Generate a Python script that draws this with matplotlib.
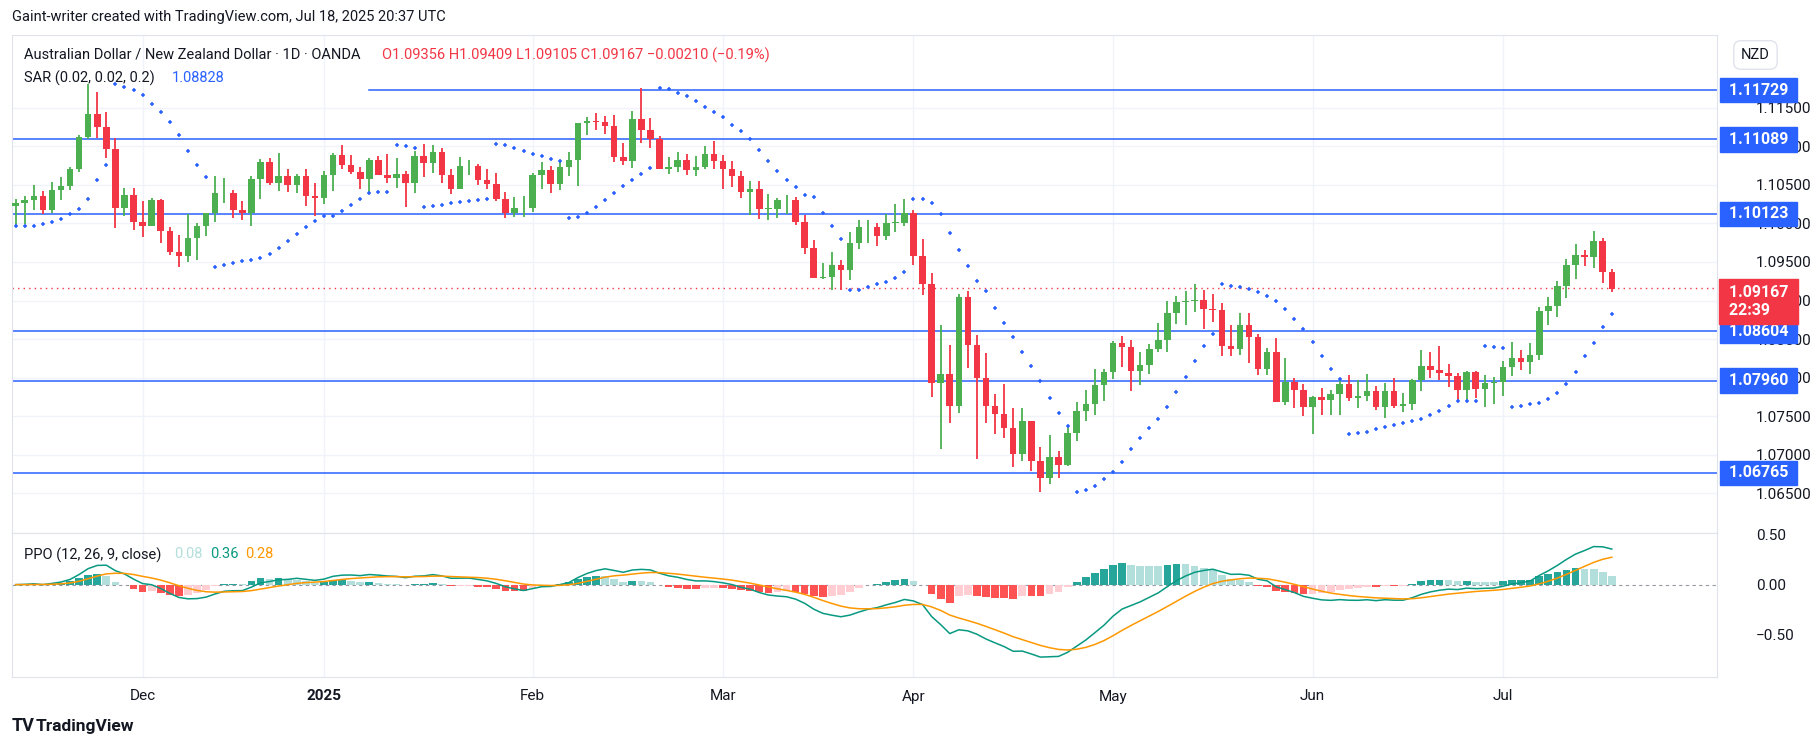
import numpy as np
import matplotlib
matplotlib.use("Agg")
import matplotlib.pyplot as plt
import matplotlib.transforms as mtrans
from matplotlib.patches import Rectangle

plt.rcParams["font.family"] = "Roboto"

# daily AUD/NZD bars, values in 1e-4 above 1.0000
highs = [1031,1036,1050,1042,1054,1060,1073,1114,1181,1170,1144,1111,1046,1046,1029,1033,1032,995,985,1012,1001,1014,1061,1059,1043,1029,1061,1083,1085,1091,1071,1064,1071,1052,1068,1091,1102,1089,1073,1085,1087,1090,1085,1068,1094,1103,1102,1098,1071,1086,1082,1077,1071,1065,1041,1034,1036,1065,1080,1074,1080,1093,1130,1138,1143,1139,1141,1104,1146,1176,1137,1113,1086,1093,1090,1087,1100,1107,1089,1081,1068,1055,1055,1038,1033,1037,1034,1011,979,949,963,953,989,1004,1004,1001,1012,1025,1032,1017,980,936,868,842,909,912,855,832,779,792,761,761,744,710,726,705,737,769,784,811,811,848,854,849,833,844,871,899,906,912,921,914,909,897,868,884,884,857,839,852,826,800,792,776,787,784,797,804,797,805,789,793,800,780,798,836,833,841,818,806,809,809,804,801,822,846,836,845,892,905,925,954,973,966,990,981,941]
lows = [997,999,1017,1012,1013,1030,1043,1066,1109,1111,1085,994,1009,991,982,997,975,959,944,950,953,983,1002,1027,1007,1004,996,1032,1050,1042,1041,1039,1023,1009,1025,1042,1071,1064,1045,1041,1063,1052,1046,1021,1039,1060,1065,1052,1038,1045,1063,1050,1045,1029,1007,1008,1008,1015,1045,1039,1043,1061,1049,1115,1121,1116,1080,1076,1072,1104,1098,1071,1064,1067,1063,1061,1071,1071,1045,1047,1033,1011,1006,1004,1007,1012,998,960,929,928,914,914,927,967,975,971,979,989,997,946,907,775,708,741,754,813,695,741,727,722,684,692,679,652,662,670,686,718,744,752,770,798,814,782,791,805,833,833,870,868,885,863,872,828,828,829,819,804,804,769,765,761,750,727,752,752,752,770,761,770,758,747,761,756,758,783,800,797,788,770,770,774,762,766,776,802,810,805,823,868,879,903,928,945,942,923,911]
closes = [1026,1030,1035,1017,1043,1049,1071,1112,1142,1125,1096,1020,1037,1002,997,1030,990,963,958,981,997,1013,1039,1040,1017,1013,1058,1080,1052,1061,1050,1061,1036,1033,1063,1089,1076,1067,1058,1082,1063,1059,1064,1052,1087,1078,1093,1063,1045,1074,1074,1056,1051,1032,1014,1020,1020,1063,1069,1051,1073,1082,1130,1133,1131,1126,1086,1081,1135,1121,1109,1071,1073,1082,1069,1073,1090,1081,1071,1061,1041,1045,1019,1019,1030,1030,1002,968,929,931,946,940,975,995,995,984,1001,1001,1014,958,921,793,805,763,905,842,800,763,753,735,701,744,692,670,697,687,728,757,766,791,807,845,840,809,817,837,849,884,898,899,901,889,888,841,837,868,853,811,833,769,794,784,762,775,771,779,792,774,776,783,762,782,763,766,797,815,810,806,802,784,807,785,793,794,814,826,820,829,887,893,919,946,959,956,977,937,915]
first_open = 1023

levels = [1.11729, 1.11089, 1.10123, 1.08604, 1.07960, 1.06765]
month_labels = ["Dec", "2025", "Feb", "Mar", "Apr", "May", "Jun", "Jul"]
month_bars = [14, 34, 57, 78, 99, 121, 143, 164]
price_ticks = [1.065, 1.070, 1.075, 1.080, 1.085, 1.090, 1.095, 1.100, 1.105, 1.110, 1.115]
last_price = 1.09167
sar_last = 1.08828

H = 1 + np.array(highs) / 1e4
L = 1 + np.array(lows) / 1e4
C = 1 + np.array(closes) / 1e4
O = np.concatenate([[1 + first_open / 1e4], C[:-1]])
n = len(C)
x = np.arange(n)

GREEN, RED, BLUE = "#4caf50", "#f23645", "#2962ff"

# --- indicators -----------------------------------------------------------
def ema(v, span):
    a = 2.0 / (span + 1)
    out = np.empty_like(v)
    out[0] = v[0]
    for i in range(1, len(v)):
        out[i] = a * v[i] + (1 - a) * out[i - 1]
    return out

ppo = (ema(C, 12) - ema(C, 26)) / ema(C, 26) * 100
sig = ema(ppo, 9)
hist = ppo - sig

def psar(h, l, step=0.02, mx=0.2):
    sar = np.empty(len(h))
    up = True
    af = step
    ep = h[0]
    sar[0] = l[0]
    for i in range(1, len(h)):
        s = sar[i - 1] + af * (ep - sar[i - 1])
        if up:
            s = min(s, l[i - 1], l[max(i - 2, 0)])
            if l[i] < s:
                up, s, ep, af = False, ep, l[i], step
            elif h[i] > ep:
                ep, af = h[i], min(af + step, mx)
        else:
            s = max(s, h[i - 1], h[max(i - 2, 0)])
            if h[i] > s:
                up, s, ep, af = True, ep, h[i], step
            elif l[i] < ep:
                ep, af = l[i], min(af + step, mx)
        sar[i] = s
    return sar

sar = psar(H, L)

# --- figure ---------------------------------------------------------------
W, Hpx = 1814, 747
fig = plt.figure(figsize=(W / 100, Hpx / 100), dpi=100, facecolor="white")
def box(l, t, r, b):
    return [l / W, 1 - b / Hpx, (r - l) / W, (b - t) / Hpx]

ax = fig.add_axes(box(12, 35, 1717, 533))
ax2 = fig.add_axes(box(12, 533, 1717, 677), sharex=ax)

xlim = (-0.4, 187.6)
ax.set_xlim(*xlim)
ax.set_ylim(1.05985, 1.12443)
ax2.set_ylim(-0.93, 0.52)

for a in (ax, ax2):
    for s in a.spines.values():
        s.set_color("#e0e3eb")
    a.yaxis.tick_right()
    a.tick_params(axis="y", length=0, labelsize=11, colors="#131722", pad=28)
    a.tick_params(axis="x", length=0)
    for mb in month_bars:
        a.axvline(mb, color="#f0f3fa", lw=1, zorder=0)

ax.set_yticks(price_ticks)
ax.set_yticklabels([f"{p:.5f}" for p in price_ticks])
ax.grid(axis="y", color="#f0f3fa", lw=1)
ax.set_axisbelow(True)
plt.setp(ax.get_xticklabels(), visible=False)

# candles
for i in range(n):
    col = GREEN if C[i] >= O[i] else RED
    ax.vlines(x[i], L[i], H[i], color=col, lw=1.3, zorder=3)
    lo, hi = min(O[i], C[i]), max(O[i], C[i])
    ax.add_patch(Rectangle((x[i] - 0.36, lo), 0.72, max(hi - lo, 0.00006),
                           facecolor=col, edgecolor=col, lw=0, zorder=4))

ax.scatter(x, sar, marker="+", s=12, color=BLUE, lw=1.1, zorder=5)

# horizontal levels
for k, lv in enumerate(levels):
    ax.plot([39 if k == 0 else xlim[0], xlim[1]], [lv, lv], color=BLUE, lw=1.1, zorder=2)
ax.axhline(last_price, color=RED, lw=1, ls=(0, (1, 3)), zorder=2)

tr = mtrans.blended_transform_factory(ax.transAxes, ax.transData)
for lv in levels:
    ax.text(1.0045, lv, f" {lv:.5f} ", transform=tr, ha="left", va="center", fontsize=11.5,
            color="white", fontweight="bold",
            bbox=dict(boxstyle="square,pad=0.3", fc=BLUE, ec=BLUE), zorder=10)
ax.text(1.0045, last_price + 0.0004, f" {last_price:.5f} \n 22:39", transform=tr, ha="left", va="top",
        fontsize=11.5, color="white", fontweight="bold", linespacing=1.3,
        bbox=dict(boxstyle="square,pad=0.35", fc=RED, ec=RED), zorder=10)

# legends
fig.text(12 / W, 1 - 17 / Hpx, "Gaint-writer created with TradingView.com, Jul 18, 2025 20:37 UTC",
         fontsize=10.5, color="#131722", va="center")
ax.text(0.007, 0.975, "Australian Dollar / New Zealand Dollar · 1D · OANDA", transform=ax.transAxes,
        fontsize=10.5, color="#131722", va="top")
ax.text(0.217, 0.975, "O1.09356 H1.09409 L1.09105 C1.09167 −0.00210 (−0.19%)",
        transform=ax.transAxes, fontsize=10.5, color=RED, va="top")
ax.text(0.007, 0.928, "SAR (0.02, 0.02, 0.2)", transform=ax.transAxes, fontsize=10.5,
        color="#131722", va="top")
ax.text(0.094, 0.928, f"{sar_last:.5f}", transform=ax.transAxes, fontsize=10.5, color=BLUE, va="top")
fig.text(1741 / W, 1 - 55 / Hpx, "NZD", fontsize=10.5, color="#131722", va="center",
         bbox=dict(boxstyle="round,pad=0.5", fc="white", ec="#e0e3eb"))

# PPO pane
hcols = []
for i in range(n):
    prev = hist[i - 1] if i else 0
    if hist[i] >= 0:
        hcols.append("#26a69a" if hist[i] >= prev else "#b2dfdb")
    else:
        hcols.append("#ffcdd2" if hist[i] >= prev else "#ff5252")
ax2.bar(x, hist, width=0.85, color=hcols, zorder=2)
ax2.plot(x, ppo, color="#089981", lw=1.1, zorder=3)
ax2.plot(x, sig, color="#ff9800", lw=1.1, zorder=3)
ax2.axhline(0, color="#9598a1", lw=0.8, ls=(0, (3, 3)), zorder=1)
ax2.set_yticks([0.5, 0.0, -0.5])
ax2.set_yticklabels(["0.50", "0.00", "−0.50"])
ax2.text(0.007, 0.9, "PPO (12, 26, 9, close)", transform=ax2.transAxes, fontsize=10.5,
         color="#131722", va="top")
ax2.text(0.095, 0.9, "0.08", transform=ax2.transAxes, fontsize=10.5, color="#b2dfdb", va="top")
ax2.text(0.116, 0.9, "0.36", transform=ax2.transAxes, fontsize=10.5, color="#089981", va="top")
ax2.text(0.137, 0.9, "0.28", transform=ax2.transAxes, fontsize=10.5, color="#ff9800", va="top")

ax2.set_xticks(month_bars)
ax2.set_xticklabels(month_labels, fontsize=11, color="#131722")
ax2.get_xticklabels()[1].set_fontweight("bold")
ax2.tick_params(axis="x", pad=9)

fig.text(12 / W, 1 - 726 / Hpx, "TV", fontsize=13, fontweight="bold", color="#131722", va="center")
fig.text(36 / W, 1 - 726 / Hpx, "TradingView", fontsize=12.5, fontweight="bold", color="#131722",
         va="center")

fig.savefig("out.png", dpi=100)
